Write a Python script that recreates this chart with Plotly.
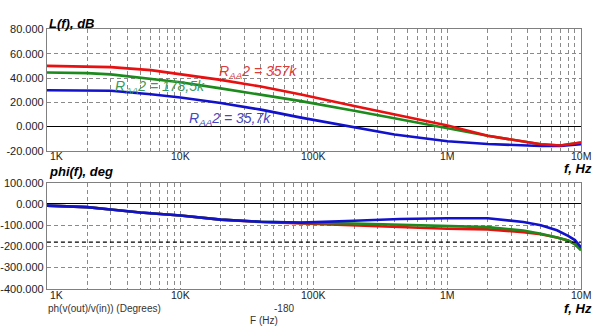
import plotly.graph_objects as go
import numpy as np

# ---- data ----
f_mag = [1e3, 2e3, 3e3, 6e3, 1e4, 2e4, 4e4, 8e4, 2e5, 4e5, 1e6, 2e6, 5e6, 7e6, 1e7]
mag_357 = [50, 49.5, 49, 46.5, 43, 38.5, 33, 26.4, 17, 10, 1, -7.5, -14.5, -15.5, -13]
mag_178 = [44.5, 44, 43, 39.5, 36.5, 31.5, 26.5, 21, 13, 6.8, -1.3, -7.5, -14.5, -15.5, -13]
mag_35 = [30, 30, 29.5, 26.7, 24, 19.5, 14, 7.4, -0.5, -6.5, -12, -14.3, -16, -16, -14.5]

f_ph = [1e3, 2e3, 3e3, 5e3, 1e4, 2e4, 4e4, 8e4, 2e5, 4.4e5, 1e6, 2e6, 3.7e6, 5e6, 6.6e6, 8e6, 9e6, 1e7]
ph_357 = [-8, -15, -26, -40, -54, -74, -85, -92, -104, -112, -117, -120, -133, -143, -158, -172, -188, -215]
ph_178 = [-8, -15, -26, -40, -54, -74, -84, -89, -92, -97, -103, -109, -125, -140, -158, -172, -190, -218]
ph_35 = [-8, -15, -26, -40, -54, -74, -84, -88, -79, -71, -67, -67, -85, -100, -124, -150, -170, -205]

x_tick_vals = [1e3, 1e4, 1e5, 1e6, 1e7]
x_tick_text = ["1K", "10K", "100K", "1M", "10M"]
mag_ticks = [80, 60, 40, 20, 0, -20]
ph_ticks = [100, 0, -100, -200, -300, -400]
labels = ["R<sub>AA</sub>2 = 357k", "R<sub>AA</sub>2 = 178,5k", "R<sub>AA</sub>2 = 35,7k"]

RED, GREEN, BLUE = "#e81010", "#1c8a1c", "#1212cc"
W, H = 601, 336

def px(xp):
    return xp / W

def py(yp):
    return 1 - yp / H

fig = go.Figure()
for y, c in [(mag_178, GREEN), (mag_35, BLUE), (mag_357, RED)]:
    fig.add_trace(go.Scatter(x=f_mag, y=y, mode="lines", line=dict(color=c, width=2.6),
                             xaxis="x", yaxis="y", showlegend=False))
for y, c in [(ph_357, RED), (ph_178, GREEN), (ph_35, BLUE)]:
    fig.add_trace(go.Scatter(x=f_ph, y=y, mode="lines", line=dict(color=c, width=2.6),
                             xaxis="x2", yaxis="y2", showlegend=False))

grid_vals = [m * 10 ** e for e in range(3, 7) for m in range(1, 10)] + [1e7]
GRID = "#8a8a8a"
xcommon = dict(type="log", range=[3, 7], tickvals=grid_vals, showticklabels=False,
               showgrid=True, gridcolor=GRID, griddash="4px,3px", gridwidth=1,
               showline=True, linecolor="#808080", linewidth=1, mirror=True, ticks="",
               zeroline=False)
tickfont = dict(family="Liberation Sans, Arial", size=11, color="#222")
xtickfont = dict(family="Liberation Sans, Arial", size=10.5, color="#222")
dom_x = [px(46), px(581)]
fig.update_layout(
    width=W, height=H, margin=dict(l=0, r=0, t=0, b=0),
    paper_bgcolor="white", plot_bgcolor="white",
    xaxis=dict(domain=dom_x, anchor="y", **xcommon),
    xaxis2=dict(domain=dom_x, anchor="y2", **xcommon),
    yaxis=dict(domain=[py(150.3), py(24.3)], range=[-20, 80], tickvals=mag_ticks,
               ticktext=[f"{v:.3f}" for v in mag_ticks], tickfont=tickfont,
               showgrid=True, gridcolor=GRID, griddash="4px,3px", gridwidth=1,
               zeroline=True, zerolinecolor="black", zerolinewidth=1.3,
               showline=True, linecolor="#808080", mirror=True, ticks="", anchor="x"),
    yaxis2=dict(domain=[py(293.3), py(183.3)], range=[-400, 100], tickvals=ph_ticks,
                ticktext=[f"{v:.3f}" for v in ph_ticks], tickfont=tickfont,
                showgrid=True, gridcolor=GRID, griddash="4px,3px", gridwidth=1,
                zeroline=True, zerolinecolor="black", zerolinewidth=1.3,
                showline=True, linecolor="#808080", mirror=True, ticks="", anchor="x2"),
)

# -180 dashed reference line
fig.add_shape(type="line", xref="x2 domain", yref="y2", x0=0, x1=1, y0=-180, y1=-180,
              line=dict(color="black", width=1.2, dash="4px,3px"))

# x tick labels
for v, t in zip(x_tick_vals, x_tick_text):
    for xr, ypx in (("x", 155.5), ("x2", 300)):
        fig.add_annotation(x=np.log10(v), xref=xr, y=py(ypx), yref="paper", text=t,
                           showarrow=False, font=xtickfont, yanchor="middle",
                           xanchor="left" if t == "1K" else "center", xshift=0 if t != "1K" else 1)

bold_it = dict(family="Liberation Sans, Arial", size=13, color="black")
def txt(s, xp, yp, font, xanchor="left"):
    fig.add_annotation(x=px(xp), y=py(yp), xref="paper", yref="paper", text=s,
                       showarrow=False, font=font, xanchor=xanchor, yanchor="middle")

txt("<b><i>L(f), dB</i></b>", 46, 18, bold_it)
txt("<b><i>phi(f), deg</i></b>", 46, 172, bold_it)
txt("<b><i>f, Hz</i></b>", 594, 168, bold_it, "right")
txt("<b><i>f, Hz</i></b>", 594, 313.5, bold_it, "right")
small = dict(family="Liberation Sans, Arial", size=10, color="#333")
txt("ph(v(out)/v(in)) (Degrees)", 45, 314, small)
txt("-180", 271, 314, small)
txt("F (Hz)", 247, 326, small)

# curve labels
for s, c, lx, ly in [(labels[0], "#e03a3a", 4.271, 44.7),
                     (labels[1], "#3a9a5a", 3.493, 32.8),
                     (labels[2], "#4646c0", 4.047, 6.6)]:
    fig.add_annotation(x=lx, y=ly, xref="x", yref="y", text=f"<i>{s}</i>", showarrow=False,
                       xanchor="left", yanchor="middle",
                       font=dict(family="Liberation Sans, Arial", size=14, color=c))

fig.write_html("out.html")
